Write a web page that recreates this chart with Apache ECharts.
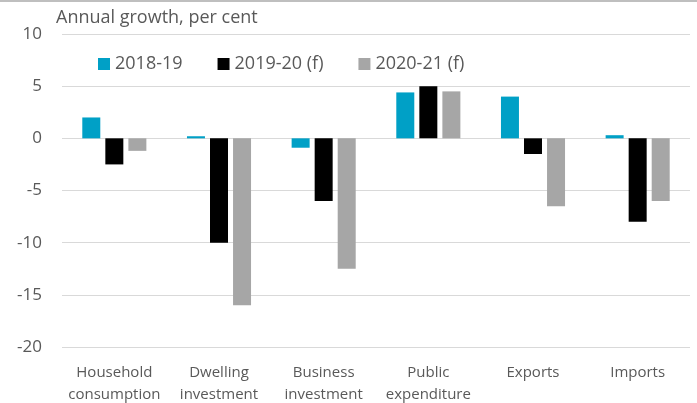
<!DOCTYPE html>
<html>
<head>
<meta charset="utf-8">
<script src="https://cdn.jsdelivr.net/npm/echarts@6/dist/echarts.min.js"></script>
<style>
    html, body { margin: 0; padding: 0; background: #fff; }
    #topline { position: absolute; left: 0; top: 0; width: 697px; height: 2px; background: #bfbfbf; }
    #chart { width: 697px; height: 403px; }
</style>
</head>
<body>
<div id="topline"></div>
<div id="chart"></div>
<script>
    // categories and series values
    var categories = ['Household\nconsumption', 'Dwelling\ninvestment', 'Business\ninvestment', 'Public\nexpenditure', 'Exports', 'Imports'];
    var seriesNames = ['2018-19', '2019-20 (f)', '2020-21 (f)'];
    var growth1819 = [2.0, 0.2, -0.9, 4.4, 4.0, 0.3];
    var growth1920 = [-2.5, -10.0, -6.0, 5.0, -1.5, -8.0];
    var growth2021 = [-1.2, -16.0, -12.5, 4.5, -6.5, -6.0];
    var yTicks = [-20, -15, -10, -5, 0, 5, 10];

    var colors = ['#00a0c6', '#000000', '#a6a6a6'];
    var font = 'Open Sans';

    var chart = echarts.init(document.getElementById('chart'));

    var option = {
        animation: false,
        color: colors,
        title: {
            text: 'Annual growth, per cent',
            left: 51,
            top: 4,
            textStyle: { fontFamily: font, fontSize: 18, fontWeight: 'normal', color: '#595959' }
        },
        legend: {
            data: seriesNames,
            left: 93,
            top: 50,
            itemWidth: 12,
            itemHeight: 12,
            itemGap: 35,
            icon: 'rect',
            textStyle: { fontFamily: font, fontSize: 18, color: '#595959' }
        },
        grid: { left: 62, right: 7, top: 34, bottom: 56, containLabel: false, outerBoundsMode: 'none' },
        xAxis: {
            type: 'category',
            data: categories,
            axisLine: { show: false, onZero: false },
            axisTick: { show: false },
            axisLabel: {
                interval: 0,
                margin: 15,
                lineHeight: 22,
                fontFamily: font, fontSize: 15, color: '#595959'
            }
        },
        yAxis: {
            type: 'value',
            min: yTicks[0],
            max: yTicks[yTicks.length - 1],
            interval: 5,
            axisLine: { show: false },
            axisTick: { show: false },
            axisLabel: { margin: 20, fontFamily: font, fontSize: 17, color: '#595959' },
            splitLine: { lineStyle: { color: '#d9d9d9', width: 1 } }
        },
        series: [
            { name: seriesNames[0], type: 'bar', data: growth1819, barWidth: 18, barGap: '28%' },
            { name: seriesNames[1], type: 'bar', data: growth1920, barWidth: 18, barGap: '28%' },
            { name: seriesNames[2], type: 'bar', data: growth2021, barWidth: 18, barGap: '28%' }
        ]
    };

    chart.setOption(option);
</script>
</body>
</html>
